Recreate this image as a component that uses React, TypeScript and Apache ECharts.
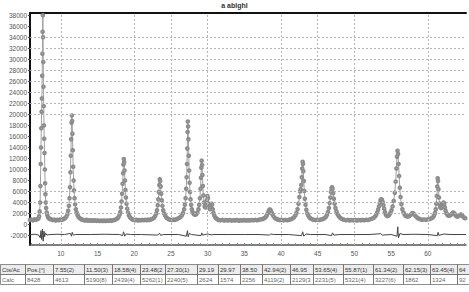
import React, { useEffect, useRef } from "react";
import * as echarts from "echarts";

const chartTitle = "a ablghl";

const yTickValues = [-2000, 0, 2000, 4000, 6000, 8000, 10000, 12000, 14000, 16000, 18000, 20000, 22000, 24000, 26000, 28000, 30000, 32000, 34000, 36000, 38000];
const yGridValues = [2000, 4000, 6000, 20000, 22000, 24000, 26000, 28000, 30000, 32000, 34000];
const xTickLabels = [10, 15, 20, 25, 30, 35, 40, 45, 50, 55, 60];
const xGridValues = [10, 20, 25, 30, 40, 45, 50, 60];
const xMinorTicks = [6, 7, 8, 9, 10, 11, 12, 13, 14, 15, 16, 17, 18, 19, 20, 21, 22, 23, 24, 25, 26, 27, 28, 29, 30, 31, 32, 33, 34, 35, 36, 37, 38, 39, 40, 41, 42, 43, 44, 45, 46, 47, 48, 49, 50, 51, 52, 53, 54, 55, 56, 57, 58, 59, 60, 61, 62, 63, 64, 65];

// observed profile: [2theta, counts]
const observed: [number, number][] = [
  [5.8, 820], [6.0, 900], [6.2, 780], [6.4, 950], [6.6, 860], [6.8, 1000],
  [6.95, 1100], [7.05, 1500], [7.12, 2400], [7.18, 4000], [7.22, 7000], [7.26, 11000], [7.3, 14000], [7.34, 17500], [7.38, 20500], [7.42, 22900], [7.46, 27000], [7.49, 31000], [7.52, 35000], [7.55, 38000], [7.58, 34000], [7.61, 29500], [7.64, 25000], [7.67, 21500], [7.7, 18000], [7.74, 15600], [7.78, 13000], [7.82, 10000], [7.86, 7500], [7.9, 5500], [7.95, 4000], [8.0, 3000], [8.08, 2200], [8.16, 1700], [8.26, 1350], [8.38, 1150], [8.5, 1000],
  [8.7, 950], [8.9, 820], [9.1, 900], [9.3, 760], [9.5, 880], [9.7, 800], [9.9, 930], [10.1, 840], [10.3, 980],
  [10.45, 1050], [10.6, 1200], [10.75, 1450], [10.9, 1900], [11.0, 2500], [11.1, 3400], [11.18, 4800], [11.25, 6800], [11.31, 9500], [11.36, 12500], [11.41, 15500], [11.46, 18500], [11.5, 19800], [11.54, 18800], [11.58, 16500], [11.63, 13500], [11.68, 10500], [11.74, 8000], [11.8, 6200], [11.87, 4800], [11.95, 3700], [12.05, 2800], [12.15, 2200], [12.28, 1700], [12.42, 1400], [12.58, 1150], [12.75, 1000],
  [12.9, 900], [13.1, 820], [13.3, 760], [13.5, 870], [13.7, 720], [13.9, 800], [14.1, 690], [14.3, 780], [14.5, 700], [14.7, 760], [14.9, 680], [15.1, 740], [15.3, 660], [15.5, 720], [15.7, 650], [15.9, 730], [16.1, 670], [16.3, 720], [16.5, 690], [16.7, 760], [16.9, 720], [17.1, 800], [17.3, 850],
  [17.5, 950], [17.7, 1100], [17.85, 1350], [18.0, 1800], [18.1, 2300], [18.2, 3100], [18.28, 4200], [18.35, 5600], [18.42, 7400], [18.48, 9300], [18.53, 10900], [18.58, 11900], [18.63, 11300], [18.68, 9800], [18.74, 8000], [18.8, 6300], [18.87, 4900], [18.95, 3800], [19.05, 2900], [19.15, 2200], [19.28, 1700], [19.42, 1350], [19.58, 1100], [19.75, 950],
  [19.9, 880], [20.1, 800], [20.3, 870], [20.5, 760], [20.7, 840], [20.9, 780], [21.1, 860], [21.3, 790], [21.5, 880], [21.7, 810], [21.9, 900], [22.1, 850], [22.3, 950],
  [22.5, 1050], [22.7, 1250], [22.85, 1550], [23.0, 2000], [23.1, 2600], [23.2, 3500], [23.28, 4600], [23.35, 5900], [23.42, 7200], [23.48, 8250], [23.54, 7900], [23.6, 6900], [23.67, 5600], [23.75, 4400], [23.84, 3400], [23.95, 2600], [24.08, 2000], [24.22, 1600], [24.38, 1300], [24.55, 1100], [24.75, 950],
  [24.9, 880], [25.1, 820], [25.3, 900], [25.5, 850], [25.7, 950], [25.9, 1050], [26.1, 1200],
  [26.3, 1400], [26.5, 1700], [26.65, 2100], [26.8, 2800], [26.9, 3600], [27.0, 4800], [27.08, 6500], [27.14, 8600], [27.19, 11000], [27.23, 13800], [27.27, 16800], [27.3, 18700], [27.34, 17800], [27.38, 15500], [27.43, 12500], [27.48, 9800], [27.54, 7600], [27.6, 5900], [27.67, 4600], [27.75, 3600], [27.85, 2800], [27.95, 2300], [28.05, 2000], [28.15, 1900], [28.3, 1800], [28.45, 1900],
  [28.6, 2200], [28.75, 2800], [28.85, 3600], [28.95, 4800], [29.03, 6500], [29.09, 8500], [29.14, 10300], [29.19, 11600], [29.24, 10800], [29.29, 9000], [29.35, 7000], [29.42, 5300], [29.5, 4000], [29.6, 3300], [29.7, 3100],
  [29.8, 3500], [29.9, 4400], [29.97, 5200], [30.04, 4800], [30.12, 3800], [30.22, 3000], [30.32, 2800], [30.42, 3200], [30.52, 3800], [30.6, 3600], [30.7, 2800], [30.8, 2100], [30.92, 1600], [31.05, 1300], [31.2, 1100], [31.35, 950],
  [31.5, 850], [31.75, 780], [32.0, 860], [32.25, 740], [32.5, 820], [32.75, 760], [33.0, 840], [33.25, 730], [33.5, 800], [33.75, 750], [34.0, 830], [34.25, 720], [34.5, 790], [34.75, 740], [35.0, 820], [35.25, 730], [35.5, 800], [35.75, 760], [36.0, 840], [36.25, 780], [36.5, 860], [36.75, 800], [37.0, 900], [37.25, 950],
  [37.5, 1000], [37.7, 1150], [37.9, 1350], [38.05, 1650], [38.2, 2050], [38.32, 2450], [38.42, 2700], [38.5, 2750], [38.6, 2550], [38.72, 2200], [38.85, 1800], [39.0, 1450], [39.2, 1150], [39.4, 1000],
  [39.6, 900], [39.85, 820], [40.1, 880], [40.35, 780], [40.6, 860], [40.85, 800], [41.1, 900], [41.35, 980],
  [41.55, 1100], [41.75, 1300], [41.95, 1650], [42.1, 2100], [42.25, 2800], [42.38, 3800], [42.5, 5000], [42.6, 6000], [42.68, 6400], [42.76, 7200], [42.83, 8600], [42.89, 10200], [42.94, 11400], [42.99, 11000], [43.04, 9700], [43.1, 7900], [43.17, 6100], [43.25, 4700], [43.34, 3600], [43.45, 2700], [43.58, 2000], [43.72, 1600], [43.88, 1300], [44.05, 1100], [44.25, 950],
  [44.45, 880], [44.7, 820], [44.95, 900], [45.2, 840], [45.45, 930], [45.7, 1000],
  [45.9, 1150], [46.1, 1400], [46.25, 1750], [46.4, 2300], [46.52, 3000], [46.63, 3900], [46.72, 4900], [46.8, 5900], [46.88, 6600], [46.95, 6800], [47.02, 6500], [47.1, 5700], [47.2, 4700], [47.3, 3800], [47.42, 3000], [47.55, 2400], [47.7, 1900], [47.85, 1550], [48.02, 1300], [48.2, 1100], [48.4, 950],
  [48.6, 880], [48.85, 800], [49.1, 860], [49.35, 760], [49.6, 840], [49.85, 780], [50.1, 850], [50.35, 760], [50.6, 830], [50.85, 780], [51.1, 860], [51.35, 800], [51.6, 880], [51.85, 840], [52.1, 950], [52.35, 1050],
  [52.6, 1200], [52.8, 1450], [52.95, 1750], [53.1, 2200], [53.22, 2700], [53.34, 3300], [53.45, 3900], [53.55, 4400], [53.65, 4600], [53.75, 4500], [53.85, 4100], [53.95, 3500], [54.05, 2900], [54.15, 2300], [54.26, 1900], [54.38, 1650], [54.5, 1550], [54.62, 1600],
  [54.75, 1800], [54.9, 2100], [55.05, 2600], [55.2, 3300], [55.35, 4300], [55.5, 5800], [55.62, 7800], [55.72, 10200], [55.8, 12300], [55.87, 13400], [55.94, 12800], [56.01, 11000], [56.09, 8800], [56.18, 6700], [56.28, 5000], [56.4, 3700], [56.53, 2800], [56.68, 2200], [56.85, 1800], [57.0, 1550],
  [57.2, 1450], [57.4, 1500], [57.6, 1700], [57.75, 1900], [57.9, 2100], [58.05, 2000], [58.2, 1750], [58.4, 1450], [58.6, 1200], [58.8, 1050],
  [59.0, 950], [59.25, 880], [59.5, 920], [59.75, 860], [60.0, 950], [60.25, 1000], [60.5, 1150],
  [60.7, 1350], [60.85, 1650], [60.98, 2100], [61.08, 2800], [61.16, 3800], [61.23, 5200], [61.29, 6900], [61.34, 8400], [61.39, 7900], [61.45, 6400], [61.52, 4900], [61.6, 3800], [61.68, 3200],
  [61.78, 3000], [61.88, 3100], [61.98, 3400], [62.07, 3800], [62.15, 4000], [62.23, 3700], [62.32, 3100], [62.42, 2500], [62.55, 2000], [62.7, 1700], [62.85, 1600],
  [63.0, 1650], [63.15, 1800], [63.3, 2000], [63.45, 2200], [63.6, 2050], [63.75, 1750], [63.9, 1500], [64.05, 1450],
  [64.2, 1550], [64.35, 1700], [64.5, 1850], [64.65, 1700], [64.8, 1450], [64.95, 1250], [65.1, 1150],
];

// difference (obs - calc), drawn shifted by diffOffset
const diffOffset = -1800;
const difference: [number, number][] = [
  [5.8, 0], [6.5, 50], [7.0, -100], [7.2, -600], [7.3, 700], [7.4, -900], [7.5, 1000], [7.6, -1200], [7.7, 600], [7.8, -400], [7.9, 300], [8.1, -100], [8.5, 0],
  [9.5, 50], [10.5, 0], [11.3, 200], [11.45, -300], [11.55, 400], [11.7, -100], [12.0, 0], [14, 0], [16, 50],
  [18.0, 0], [18.4, -200], [18.55, 500], [18.7, -300], [18.9, 100], [19.5, 0], [21, 0],
  [23.2, -100], [23.45, 250], [23.6, -150], [24.0, 0], [26, 0],
  [27.1, -300], [27.25, 700], [27.35, -400], [27.5, 200], [27.8, 0], [29.1, -200], [29.2, 300], [29.3, -100], [30.0, 100], [30.5, -50], [31, 0],
  [33, 0], [35, 0], [37, 0], [38.4, -100], [38.6, 100], [39, 0], [41, 0],
  [42.8, -200], [42.95, 500], [43.1, -300], [43.4, 100], [44, 0], [46, 0], [46.9, -200], [47.0, 300], [47.2, -100], [48, 0],
  [50, 0], [52, 0], [53.6, 150], [53.8, -100], [55, 0], [55.8, -300], [55.9, 1400], [56.0, -600], [56.2, 200], [56.6, 0],
  [58, 50], [60, 0], [61.3, -200], [61.4, 400], [61.5, -150], [62.2, 100], [63, 0], [65.2, 0],
];

const tableColumns = [0, 25, 53, 84, 112, 140, 165, 197, 218, 240, 262, 290, 313, 343, 373, 403, 430, 457];
const tableRow1 = ["Cts/Ac", "Pos.[°]", "7.55(2)", "11.50(3)", "18.58(4)", "23.48(2)", "27.30(1)", "29.19", "29.97", "38.50", "42.94(2)", "46.95", "53.65(4)", "55.87(1)", "61.34(2)", "62.15(3)", "63.45(4)", "64.5"];
const tableRow2 = ["Calc", "8428", "4613", "5190(8)", "2439(4)", "5262(1)", "2240(5)", "2624", "1574", "2256", "4119(2)", "2129(3)", "2231(5)", "5321(4)", "3227(6)", "1862", "1324", "924"];

export default function App() {
  const ref = useRef<HTMLDivElement>(null);
  useEffect(() => {
    if (!ref.current) return;
    const chart = echarts.init(ref.current, undefined, { renderer: "svg" });
    const font = "Liberation Sans";
    const gridLineStyle = { color: "#b4b4b4", width: 1, type: [2, 2] as number[] };

    const tableGraphics: any[] = [];
    const rowTop = [264, 274];
    const rows = [tableRow1, tableRow2];
    rows.forEach((row, ri) => {
      row.forEach((txt, ci) => {
        const x0 = tableColumns[ci];
        const x1 = ci + 1 < tableColumns.length ? tableColumns[ci + 1] : 469;
        const w = x1 - x0;
        tableGraphics.push({
          type: "rect",
          shape: { x: x0 + 0.5, y: rowTop[ri] + 0.5, width: w, height: 10 },
          style: { fill: ri === 0 ? "#ececec" : "#ffffff", stroke: "#444", lineWidth: 0.6 },
          silent: true,
        });
        tableGraphics.push({
          type: "text",
          x: x0 + 2,
          y: rowTop[ri] + 6,
          style: {
            text: txt,
            fontSize: 6,
            fontFamily: font,
            fill: ri === 0 ? "#333" : "#666",
            verticalAlign: "middle",
            width: w - 3,
            overflow: "truncate",
            ellipsis: "",
          },
          silent: true,
        });
      });
    });

    chart.setOption({
      animation: false,
      backgroundColor: "#ffffff",
      grid: { left: 30, right: 3, top: 13, bottom: 47, containLabel: false },
      xAxis: [
        {
          type: "value",
          min: 5.8,
          max: 65.2,
          position: "bottom",
          axisLine: { show: true, onZero: false, lineStyle: { color: "#555", width: 1.5 } },
          axisTick: { show: true, inside: true, length: 2, customValues: xMinorTicks, lineStyle: { color: "#888" } },
          axisLabel: { customValues: xTickLabels, fontSize: 6.5, fontFamily: font, color: "#555", margin: 5, formatter: (v: number) => String(v) },
          splitLine: { show: false },
        },
        {
          type: "value",
          min: 5.8,
          max: 65.2,
          position: "top",
          axisLine: { show: true, onZero: false, lineStyle: { color: "#111", width: 2 } },
          axisTick: { show: false },
          axisLabel: { show: false },
          splitLine: { show: false },
        },
      ],
      yAxis: {
        type: "value",
        min: -3700,
        max: 38400,
        axisLine: { show: true, onZero: false, lineStyle: { color: "#111", width: 2 } },
        axisTick: { show: true, length: 2, customValues: yTickValues, lineStyle: { color: "#444" } },
        axisLabel: { customValues: yTickValues, fontSize: 6.5, fontFamily: font, color: "#555", margin: 3, formatter: (v: number) => String(v) },
        splitLine: { show: false },
      },
      graphic: [
        {
          type: "text",
          left: "center",
          top: 2,
          style: { text: chartTitle, fontSize: 7, fontWeight: "bold", fontFamily: font, fill: "#333" },
        },
        ...tableGraphics,
      ],
      series: [
        {
          name: "grid",
          type: "line",
          data: [],
          silent: true,
          markLine: {
            silent: true,
            symbol: ["none", "none"],
            label: { show: false },
            lineStyle: gridLineStyle,
            data: [
              ...yGridValues.map((v) => ({ yAxis: v })),
              ...xGridValues.map((v) => ({ xAxis: v })),
            ],
          },
        },
        {
          name: "Yobs",
          type: "line",
          data: observed,
          showSymbol: true,
          showAllSymbol: true,
          symbol: "emptyCircle",
          symbolSize: 2.6,
          lineStyle: { color: "#a0a0a0", width: 1 },
          itemStyle: { color: "#8c8c8c", borderWidth: 0.7 },
          silent: true,
        },
        {
          name: "Diff",
          type: "line",
          data: difference.map(([x, d]) => [x, d + diffOffset]),
          showSymbol: false,
          lineStyle: { color: "#444", width: 1 },
          silent: true,
        },
      ],
    });
    return () => chart.dispose();
  }, []);
  return <div ref={ref} style={{ position: "absolute", left: 0, top: 0, width: 469, height: 292 }} />;
}
